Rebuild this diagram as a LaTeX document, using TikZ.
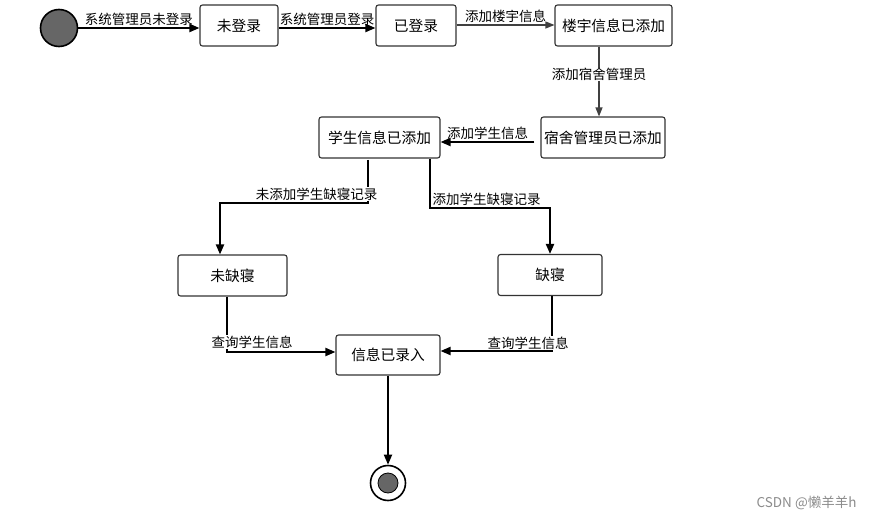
\documentclass[tikz,border=0pt]{standalone}
\usepackage{fontspec}
\setmainfont{Noto Sans CJK SC}
\usetikzlibrary{arrows.meta}
\begin{document}
\begin{tikzpicture}[x=1pt,y=-1pt,
  state/.style={draw=black!80,line width=1.1pt,rounded corners=2.5pt,minimum height=41pt,fill=white,font=\fontsize{14.7}{16}\selectfont,inner sep=2pt},
  conn/.style={line width=2pt,-{Triangle[length=10pt,width=8pt]}},
  thin/.style={line width=1.2pt,draw=black!75},
  lbl/.style={font=\fontsize{13.5}{15}\selectfont,inner sep=0.5pt}]
\useasboundingbox (0,0) rectangle (874,521);
\fill[white] (0,0) rectangle (874,521);
% start
\node[circle,draw=black,line width=1.6pt,fill=black!60,minimum size=37pt,inner sep=0] (start) at (59,28) {};
\node[state,minimum width=78pt] (a) at (239,25.5) {未登录};
\node[state,minimum width=80pt] (b) at (416,25.5) {已登录};
\node[state,minimum width=117pt] (c) at (613.5,25.5) {楼宇信息已添加};
\node[state,minimum width=124pt] (d) at (603,137.5) {宿舍管理员已添加};
\node[state,minimum width=121pt] (e) at (379.5,137.5) {学生信息已添加};
\node[state,minimum width=109pt] (f) at (232.5,275.5) {未缺寝};
\node[state,minimum width=104pt] (g) at (550,275) {缺寝};
\node[state,minimum width=104pt,minimum height=40pt] (h) at (388,355) {信息已录入};
% end
\node[circle,draw=black,line width=1.6pt,fill=white,minimum size=35pt,inner sep=0] (end) at (388,483) {};
\node[circle,draw=black,line width=0.8pt,fill=black!60,minimum size=20pt,inner sep=0] at (end) {};
% connectors
\draw[conn] (start.east |- 0,28) -- (a.west |- 0,28) node[lbl,midway,above=1pt] {系统管理员未登录};
\draw[conn] (a.east |- 0,28) -- (b.west |- 0,28) node[lbl,midway,above=1pt] {系统管理员登录};
\draw[conn,thin,-{Triangle[length=9pt,width=7pt]}] (b.east |- 0,25) -- (c.west |- 0,25) node[lbl,midway,above=1pt] {添加楼宇信息};
\draw[conn,thin,-{Triangle[length=9pt,width=7pt]}] (c.south -| 599,0) -- (d.north -| 599,0) node[lbl,pos=0.4,fill=white] {添加宿舍管理员};
\draw[conn] (d.west |- 0,142) ++(-6,0) coordinate (dw) -- (e.east |- 0,142) node[lbl,midway,above=1pt] {添加学生信息};
\coordinate (e1) at (368,160);
\draw[conn] (e1) -- (368,203) -- (220,203) -- (f.north -| 220,0);
\node[lbl,anchor=south east,fill=white] at (378,201) {未添加学生缺寝记录};
\draw[conn] (e.south -| 430,0) -- (430,208) -- (550,208) -- (g.north);
\node[lbl,anchor=south west] at (432,206) {添加学生缺寝记录};
\draw[conn] (f.south -| 227,0) -- (227,352) -- (h.west |- 0,352);
\node[lbl,anchor=south west,fill=white] at (211,349) {查询学生信息};
\draw[conn] (g.south -| 552,0) -- (552,351) -- (h.east |- 0,351);
\node[lbl,anchor=south west,fill=white] at (487,350) {查询学生信息};
\draw[conn,line width=1.8pt] (h.south) -- (end.north);
\node[font=\fontsize{13.5}{15}\selectfont,text=black!45,anchor=east] at (860,503) {CSDN @懒羊羊h};
\end{tikzpicture}
\end{document}
